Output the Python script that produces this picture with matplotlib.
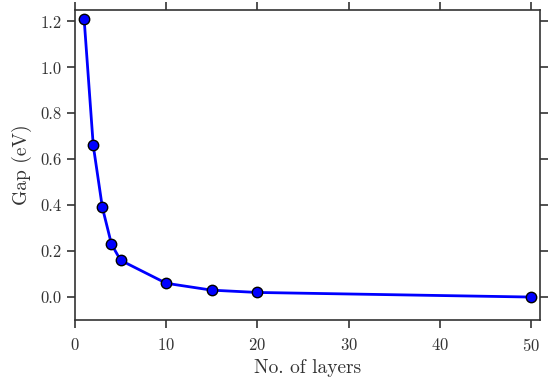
import matplotlib
matplotlib.use("Agg")
import matplotlib.pyplot as plt

# data
layers = [1, 2, 3, 4, 5, 10, 15, 20, 50]
gap_ev = [1.21, 0.66, 0.39, 0.23, 0.16, 0.06, 0.03, 0.02, 0.0]

plt.rcParams["font.family"] = "cmr10"
plt.rcParams["axes.formatter.use_mathtext"] = True

edge = "#333333"

fig = plt.figure(figsize=(5.5, 3.87), dpi=100)
ax = fig.add_axes([0.1364, 0.1731, 0.8454, 0.8011])

ax.plot(layers, gap_ev, "-o", color="blue", lw=2, ms=7.5,
        markerfacecolor="blue", markeredgecolor="black", markeredgewidth=1.0,
        clip_on=False, zorder=3)

ax.set_xlim(0, 51)
ax.set_ylim(-0.1, 1.25)
ax.set_xticks([0, 10, 20, 30, 40, 50])
ax.set_yticks([0.0, 0.2, 0.4, 0.6, 0.8, 1.0, 1.2])
ax.set_yticklabels(["0.0", "0.2", "0.4", "0.6", "0.8", "1.0", "1.2"])

ax.set_xlabel("No. of layers", fontsize=14, color=edge, labelpad=4)
ax.set_ylabel("Gap (eV)", fontsize=14, color=edge, labelpad=6)

for s in ax.spines.values():
    s.set_color(edge)
    s.set_linewidth(1.2)

ax.tick_params(direction="out", length=6, width=1.2, color=edge,
               labelcolor=edge, labelsize=12,
               top=True, right=True, labeltop=False, labelright=False)
ax.tick_params(axis="x", pad=6)

fig.savefig("out.png", dpi=100)
